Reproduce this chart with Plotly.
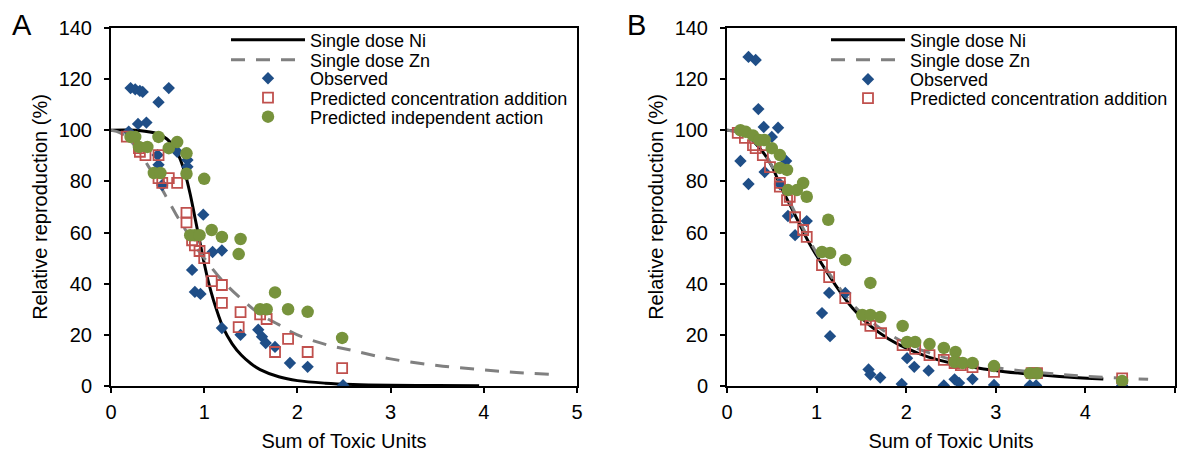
import plotly.graph_objects as go

# ---------------- Panel A data ----------------
a_ni_x = [0, 0.3, 0.5, 0.6, 0.7, 0.75, 0.8, 0.85, 0.9, 0.95, 1.0, 1.05, 1.1, 1.15, 1.2, 1.3, 1.4, 1.5, 1.6, 1.8, 2.0, 2.3, 2.6, 3.0, 3.5, 3.95]
a_ni_y = [100, 99.9, 98.6, 96.6, 92, 88, 82.5, 75, 66, 57, 48, 40, 33.5, 28, 23, 16.5, 12, 8.8, 6.4, 3.6, 2.1, 1.1, 0.6, 0.3, 0.15, 0.1]

a_zn_x = [0, 0.1, 0.2, 0.3, 0.4, 0.5, 0.6, 0.7, 0.8, 0.9, 1.0, 1.2, 1.4, 1.6, 1.8, 2.0, 2.3, 2.6, 3.0, 3.5, 4.0, 4.35, 4.7]
a_zn_y = [100, 99, 96.2, 91.7, 86, 80, 73.5, 67, 61, 55, 50, 41, 34, 28, 24, 20, 16.3, 13.8, 10.6, 8, 6.3, 5.3, 4.6]

a_obs_x = [0.21, 0.26, 0.31, 0.34, 0.51, 0.62, 0.29, 0.38, 0.19, 0.71, 0.82, 0.82, 0.5, 0.51, 0.55, 0.99, 1.09, 1.19, 0.87, 0.9, 0.96, 1.19, 1.39, 1.58, 1.62, 1.66, 1.76, 1.92, 2.11, 2.49]
a_obs_y = [116.5, 116, 115.4, 115, 111, 116.5, 102.5, 103, 99.5, 91.6, 88.4, 85.7, 90.3, 86.5, 78.6, 67, 52.4, 53, 45.4, 36.8, 36, 22.7, 20, 22, 19.3, 16.8, 15.3, 9, 7.5, 0.3]

a_ca_x = [0.17, 0.3, 0.31, 0.37, 0.51, 0.51, 0.55, 0.62, 0.71, 0.81, 0.81, 0.87, 0.9, 0.95, 1.0, 1.08, 1.19, 1.19, 1.39, 1.37, 1.6, 1.67, 1.76, 1.9, 2.11, 2.48]
a_ca_y = [97.5, 93, 91.6, 90.3, 90.3, 81.3, 79.4, 81.3, 79.4, 67.7, 64, 57, 55, 52.8, 50, 41, 39.5, 32.5, 28.9, 23, 28, 26.2, 13.3, 18.4, 13.3, 7]

a_ia_x = [0.21, 0.26, 0.3, 0.39, 0.51, 0.62, 0.71, 0.81, 0.46, 0.53, 0.81, 1.0, 0.85, 0.9, 0.95, 1.08, 1.19, 1.39, 1.37, 1.76, 1.6, 1.67, 1.9, 2.11, 2.48]
a_ia_y = [97.4, 97.4, 93.5, 93.5, 97.4, 93, 95.4, 91, 83.3, 83.3, 83, 81, 59, 59, 59, 61, 58.3, 57.5, 51.6, 36.6, 30, 30, 30, 29, 18.8]

# ---------------- Panel B data ----------------
b_ni_x = [0, 0.2, 0.4, 0.5, 0.6, 0.7, 0.8, 0.9, 1.0, 1.2, 1.4, 1.6, 1.8, 2.0, 2.25, 2.5, 2.8, 3.1, 3.4, 3.8, 4.2]
b_ni_y = [100, 98.5, 91.5, 86, 78, 71, 64, 57, 51, 40, 30.5, 23.5, 18.5, 14.8, 11.3, 9, 7, 5.6, 4.6, 3.5, 2.7]

b_zn_x = [0, 0.2, 0.4, 0.6, 0.8, 1.0, 1.2, 1.4, 1.6, 1.8, 2.1, 2.5, 3.0, 3.5, 4.0, 4.7]
b_zn_y = [100, 98.5, 92, 79, 65, 52, 41, 32, 25.5, 20.5, 15, 10.5, 7.2, 5.2, 3.8, 2.6]

b_obs_x = [0.24, 0.32, 0.35, 0.41, 0.57, 0.5, 0.15, 0.24, 0.42, 0.66, 0.59, 0.68, 0.89, 0.76, 1.14, 1.32, 1.06, 1.15, 1.58, 1.6, 1.71, 1.95, 2.01, 2.09, 2.25, 2.42, 2.54, 2.59, 2.74, 2.98, 3.38, 3.45, 4.41]
b_obs_y = [128.7, 127.5, 108.3, 101.3, 101, 97.4, 88, 79, 83.7, 88, 79, 66.5, 64.5, 59, 36.4, 36.4, 28.5, 19.5, 6.5, 4.5, 3.3, 0.8, 10.9, 7.5, 6, 0.2, 2.6, 1.2, 2.7, 0.4, 0.2, 0.2, 0.2]

b_ca_x = [0.12, 0.2, 0.29, 0.32, 0.4, 0.48, 0.59, 0.59, 0.7, 0.67, 0.76, 0.85, 0.89, 1.06, 1.14, 1.32, 1.55, 1.6, 1.72, 1.96, 2.1, 2.26, 2.42, 2.54, 2.61, 2.74, 2.98, 3.4, 3.46, 4.41]
b_ca_y = [99, 97, 94.2, 93, 90.3, 85.6, 79.4, 78, 74, 72.7, 66, 61, 58.3, 47.3, 42.6, 34.4, 26, 23.5, 20.7, 16, 14.5, 12.1, 10.2, 9, 8.2, 7.4, 5.5, 5, 5, 3]

b_ia_x = [0.15, 0.21, 0.29, 0.36, 0.42, 0.5, 0.59, 0.59, 0.67, 0.85, 0.68, 0.78, 0.89, 1.13, 1.06, 1.15, 1.32, 1.6, 1.51, 1.6, 1.71, 1.96, 2.01, 2.1, 2.26, 2.42, 2.55, 2.54, 2.63, 2.74, 2.98, 3.38, 3.46, 4.41]
b_ia_y = [100, 99.4, 98, 96.2, 96.2, 93, 90.3, 85.3, 84.5, 79.4, 76.6, 76.6, 74, 65, 52.4, 52, 49.3, 40.3, 27.8, 27.8, 27, 23.5, 17.2, 17.2, 16.4, 14.9, 13.3, 9.4, 9, 9, 7.8, 5, 5, 2]

x_ticks = [0, 1, 2, 3, 4, 5]
y_ticks = [0, 20, 40, 60, 80, 100, 120, 140]

series_names = ["Single dose Ni", "Single dose Zn", "Observed",
                "Predicted concentration addition", "Predicted independent action"]

# ---------------- Styles ----------------
FONT = "Arial, 'Liberation Sans', sans-serif"
BLUE = "#1F4E87"
RED = "#C0504D"
GREEN = "#77933C"
GRAY = "#808080"

W, H = 1179, 452
ML, MR, MT, MB = 111, 4, 28, 66
PW = W - ML - MR
PH = H - MT - MB


def px_x(p):
    return (p - ML) / PW


def px_y(p):
    return (H - MB - p) / PH


fig = go.Figure()


def add_panel(xa, ya, legends, ni_x, ni_y, zn_x, zn_y, ox, oy, cx, cy, ix, iy, ia_in_legend):
    fig.add_trace(go.Scatter(x=ni_x, y=ni_y, mode="lines", name=series_names[0],
                             line=dict(color="black", width=3, shape="spline"),
                             xaxis=xa, yaxis=ya, legend=legends[0], showlegend=True))
    fig.add_trace(go.Scatter(x=zn_x, y=zn_y, mode="lines", name=series_names[1],
                             line=dict(color=GRAY, width=3, dash="14px,11px", shape="spline"),
                             xaxis=xa, yaxis=ya, legend=legends[1], showlegend=True))
    fig.add_trace(go.Scatter(x=ox, y=oy, mode="markers", name=series_names[2],
                             marker=dict(symbol="diamond", size=9.5, color=BLUE),
                             xaxis=xa, yaxis=ya, legend=legends[2], showlegend=True))
    fig.add_trace(go.Scatter(x=cx, y=cy, mode="markers", name=series_names[3],
                             marker=dict(symbol="square-open", size=10, color=RED, line=dict(width=1.8, color=RED)),
                             xaxis=xa, yaxis=ya, legend=legends[3], showlegend=True))
    fig.add_trace(go.Scatter(x=ix, y=iy, mode="markers", name=series_names[4],
                             marker=dict(symbol="circle", size=12.5, color=GREEN),
                             showlegend=ia_in_legend,
                             xaxis=xa, yaxis=ya, legend=legends[4]))


legA = ["legend", "legend2", "legend3", "legend4", "legend5"]
legB = ["legend6", "legend7", "legend8", "legend9", "legend10"]

add_panel("x", "y", legA, a_ni_x, a_ni_y, a_zn_x, a_zn_y,
          a_obs_x, a_obs_y, a_ca_x, a_ca_y, a_ia_x, a_ia_y, True)
add_panel("x2", "y2", legB, b_ni_x, b_ni_y, b_zn_x, b_zn_y,
          b_obs_x, b_obs_y, b_ca_x, b_ca_y, b_ia_x, b_ia_y, False)

axis_common = dict(
    showline=True, linecolor="black", linewidth=2, mirror=True,
    ticks="outside", ticklen=5, tickwidth=2, tickcolor="black",
    showgrid=False, zeroline=False,
    tickfont=dict(family=FONT, size=20, color="black"),
    title_font=dict(family=FONT, size=20, color="black"),
    automargin=False,
)

layout = dict(
    width=W, height=H,
    showlegend=True,
    margin=dict(l=ML, r=MR, t=MT, b=MB),
    paper_bgcolor="white", plot_bgcolor="white",
    font=dict(family=FONT, color="black"),
    xaxis=dict(domain=[0, px_x(577)], range=[0, 5], tickvals=x_ticks, ticklabelstandoff=2,
               title=dict(text="Sum of Toxic Units", standoff=14), **axis_common),
    yaxis=dict(domain=[0, 1], range=[0, 140], tickvals=y_ticks, ticklabelstandoff=8,
               title=dict(text="Relative reproduction (%)", standoff=6), **axis_common),
    xaxis2=dict(domain=[px_x(727), 1], range=[0, 5], tickvals=x_ticks, anchor="y2", ticklabelstandoff=2,
                title=dict(text="Sum of Toxic Units", standoff=14), **axis_common),
    yaxis2=dict(domain=[0, 1], range=[0, 140], tickvals=y_ticks, anchor="x2", ticklabelstandoff=8,
                title=dict(text="Relative reproduction (%)", standoff=6), **axis_common),
    annotations=[
        dict(text="A", x=px_x(22), y=px_y(25), xref="paper", yref="paper", showarrow=False,
             xanchor="center", yanchor="middle", font=dict(family=FONT, size=29, color="black")),
        dict(text="B", x=px_x(636), y=px_y(25), xref="paper", yref="paper", showarrow=False,
             xanchor="center", yanchor="middle", font=dict(family=FONT, size=29, color="black")),
    ],
)

rowsA = [40, 60, 78.5, 98, 117]
rowsB = [40, 60, 79.5, 98.5, 117]
for names, rows, left in ((legA, rowsA, 226), (legB, rowsB, 826)):
    for nm, ry in zip(names, rows):
        layout[nm] = dict(visible=True, x=px_x(left), y=px_y(ry), xanchor="left", yanchor="middle",
                          bgcolor="rgba(0,0,0,0)", borderwidth=0, itemwidth=74,
                          font=dict(family=FONT, size=18, color="black"),
                          itemclick=False, itemdoubleclick=False)

fig.update_layout(**layout)
fig.write_html("out.html")
